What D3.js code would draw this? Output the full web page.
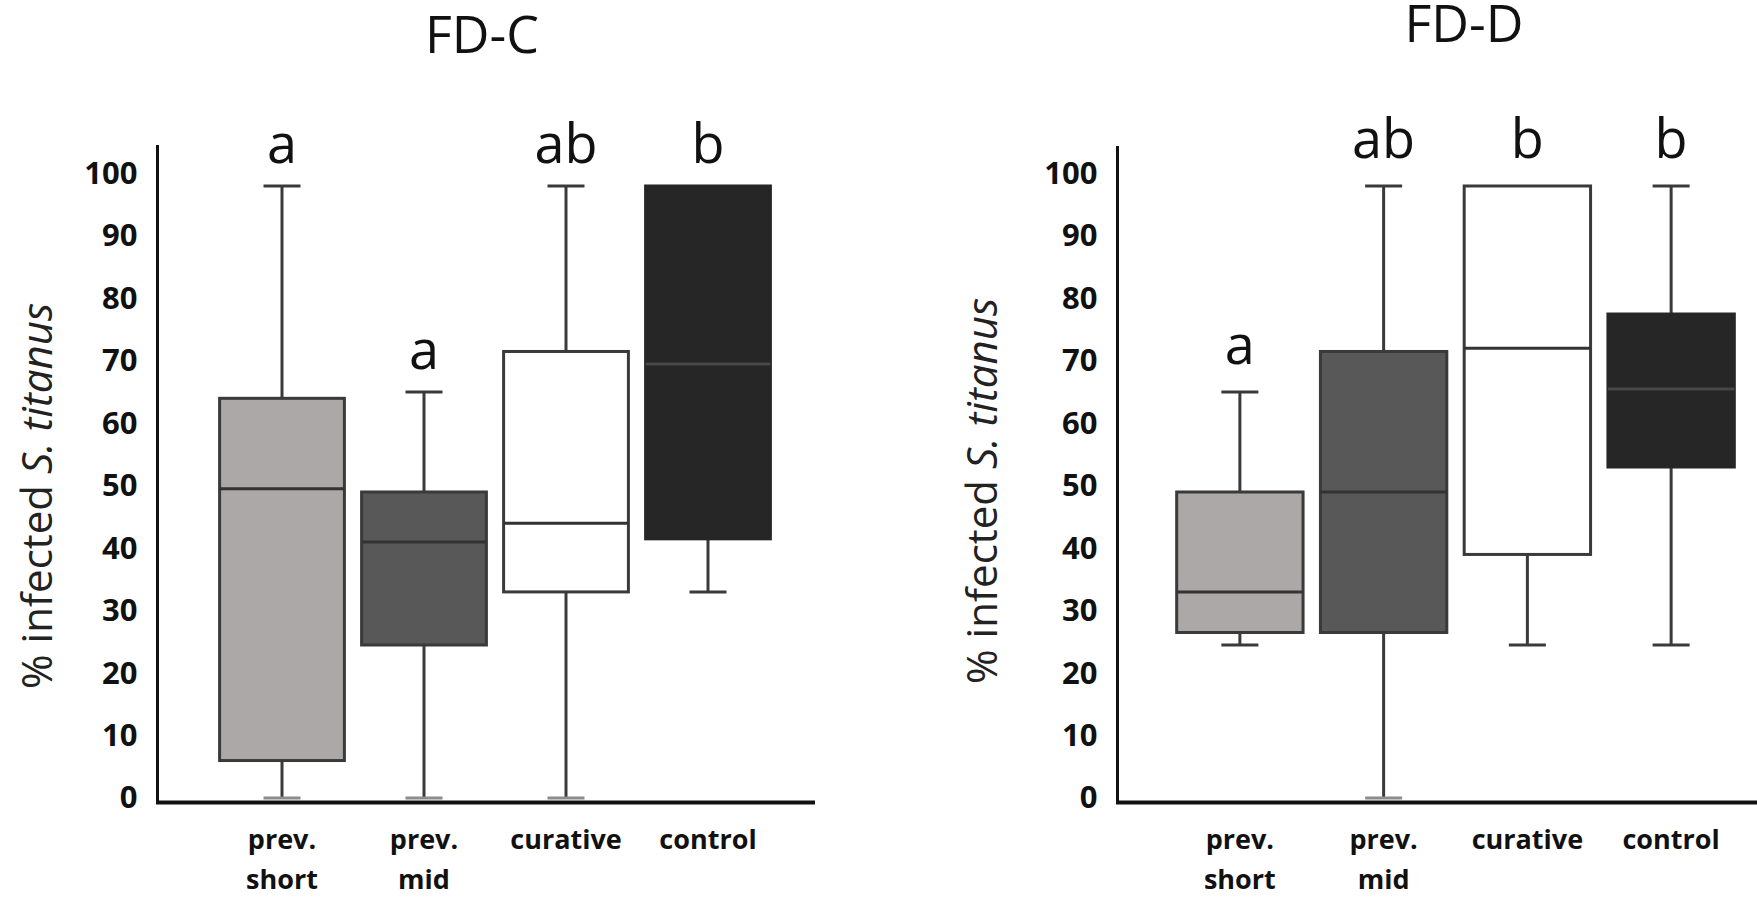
<!DOCTYPE html>
<html>
<head>
<meta charset="utf-8">
<script src="https://cdn.jsdelivr.net/npm/d3@7"></script>
<style>
  html, body { margin: 0; padding: 0; background: #ffffff; }
  svg { display: block; }
  text { font-family: "Open Sans", "DejaVu Sans", sans-serif; fill: #111; }
</style>
</head>
<body>
<svg id="chart" width="1757" height="899"></svg>
<script>
// ---- data ----
const categories = ["prev. short", "prev. mid", "curative", "control"];
const categoryLines = [["prev.", "short"], ["prev.", "mid"], ["curative"], ["control"]];
const yTicks = [0, 10, 20, 30, 40, 50, 60, 70, 80, 90, 100];
const fillColors = ["#aba8a7", "#585858", "#ffffff", "#262626"];

// FD-C
const fdcMin    = [0, 0, 0, 33];
const fdcQ1     = [6, 24.5, 33, 41.5];
const fdcMedian = [49.5, 41, 44, 69.5];
const fdcQ3     = [64, 49, 71.5, 98];
const fdcMax    = [98, 65, 98, 98];
const fdcLetters = ["a", "a", "ab", "b"];

// FD-D
const fddMin    = [24.5, 0, 24.5, 24.5];
const fddQ1     = [26.5, 26.5, 39, 53];
const fddMedian = [33, 49, 72, 65.5];
const fddQ3     = [49, 71.5, 98, 77.5];
const fddMax    = [65, 98, 98, 98];
const fddLetters = ["a", "ab", "b", "b"];

const yLabelPlain = "% infected ";
const yLabelItalic = "S. titanus";

// ---- drawing ----
const svg = d3.select("#chart");

function drawPanel(p) {
  const g = svg.append("g");
  const y = d3.scaleLinear().domain([0, 100]).range([798, 173.5]);
  const x = d3.scaleBand().domain(categories).range(p.xRange)
    .paddingInner(0.1).paddingOuter(0.05);
  const bw = x.bandwidth();
  const capW = 37;
  const stroke = "#3a3a3a";

  const rows = categories.map((c, i) => ({
    c, i, min: p.min[i], q1: p.q1[i], med: p.median[i], q3: p.q3[i], max: p.max[i], letter: p.letters[i]
  }));

  // title
  g.append("text").attr("x", p.titleX).attr("y", p.titleY)
    .attr("text-anchor", "middle").style("font-size", "52px").text(p.title);

  // y label
  const yl = g.append("text")
    .attr("transform", `translate(${p.yLabelX},${p.yLabelY}) rotate(-90)`)
    .attr("text-anchor", "middle").style("font-size", "42px").style("fill", "#222");
  yl.append("tspan").text(yLabelPlain);
  yl.append("tspan").style("font-style", "italic").text(yLabelItalic);

  // y axis (labels only + line)
  const yAxis = d3.axisLeft(y).tickValues(yTicks).tickSize(0).tickPadding(20);
  const ya = g.append("g").attr("transform", `translate(${p.axisX},0)`).call(yAxis);
  ya.select(".domain").remove();
  ya.selectAll("text").style("font-size", "31px").style("font-weight", "bold")
    .style("font-family", "'Open Sans', sans-serif").attr("fill", "#1a1a1a");
  g.append("line").attr("x1", p.axisX).attr("x2", p.axisX)
    .attr("y1", p.axisTop).attr("y2", 804)
    .attr("stroke", "#111").attr("stroke-width", 3);
  g.append("line").attr("x1", p.axisX - 1.5).attr("x2", p.xAxisEnd)
    .attr("y1", 802.5).attr("y2", 802.5)
    .attr("stroke", "#111").attr("stroke-width", 4);

  // whiskers
  const wg = g.selectAll(".box").data(rows).join("g").attr("class", "box");
  wg.append("line")
    .attr("x1", d => x(d.c) + bw / 2).attr("x2", d => x(d.c) + bw / 2)
    .attr("y1", d => y(d.min)).attr("y2", d => y(d.q1))
    .attr("stroke", stroke).attr("stroke-width", 3);
  wg.filter(d => d.max > d.q3).append("line")
    .attr("x1", d => x(d.c) + bw / 2).attr("x2", d => x(d.c) + bw / 2)
    .attr("y1", d => y(d.q3)).attr("y2", d => y(d.max))
    .attr("stroke", stroke).attr("stroke-width", 3);
  // caps
  wg.append("line")
    .attr("x1", d => x(d.c) + bw / 2 - capW / 2).attr("x2", d => x(d.c) + bw / 2 + capW / 2)
    .attr("y1", d => y(d.min)).attr("y2", d => y(d.min))
    .attr("stroke", d => d.min === 0 ? "#8c8c8c" : stroke).attr("stroke-width", 3);
  wg.filter(d => d.max > d.q3).append("line")
    .attr("x1", d => x(d.c) + bw / 2 - capW / 2).attr("x2", d => x(d.c) + bw / 2 + capW / 2)
    .attr("y1", d => y(d.max)).attr("y2", d => y(d.max))
    .attr("stroke", stroke).attr("stroke-width", 3);
  // boxes
  wg.append("rect")
    .attr("x", d => x(d.c) + 1.5).attr("width", bw - 3)
    .attr("y", d => y(d.q3)).attr("height", d => y(d.q1) - y(d.q3))
    .attr("fill", d => fillColors[d.i])
    .attr("stroke", d => d.i === 3 ? fillColors[3] : stroke)
    .attr("stroke-width", 3);
  // medians
  wg.append("line")
    .attr("x1", d => x(d.c) + 1.5).attr("x2", d => x(d.c) + bw - 1.5)
    .attr("y1", d => y(d.med)).attr("y2", d => y(d.med))
    .attr("stroke", d => d.i === 3 ? "#474747" : "#333").attr("stroke-width", 3);
  // letters
  wg.append("text")
    .attr("x", d => x(d.c) + bw / 2).attr("y", d => y(d.max) - p.letterGap)
    .attr("text-anchor", "middle").style("font-size", "54px").text(d => d.letter);

  // x labels
  const xl = g.selectAll(".xl").data(rows).join("text").attr("class", "xl")
    .attr("text-anchor", "middle")
    .style("font-size", "27px").style("font-weight", "bold").attr("fill", "#1a1a1a");
  xl.each(function(d) {
    const t = d3.select(this);
    categoryLines[d.i].forEach((ln, k) => {
      t.append("tspan").attr("x", x(d.c) + bw / 2).attr("y", 849 + k * 40).text(ln);
    });
  });
}

drawPanel({
  title: "FD-C", titleX: 482, titleY: 53,
  min: fdcMin, q1: fdcQ1, median: fdcMedian, q3: fdcQ3, max: fdcMax, letters: fdcLetters,
  xRange: [211, 779], axisX: 157.5, axisTop: 145, xAxisEnd: 815,
  yLabelX: 52, yLabelY: 496, letterGap: 23
});
drawPanel({
  title: "FD-D", titleX: 1464, titleY: 42,
  min: fddMin, q1: fddQ1, median: fddMedian, q3: fddQ3, max: fddMax, letters: fddLetters,
  xRange: [1168, 1743], axisX: 1117.5, axisTop: 146, xAxisEnd: 1760,
  yLabelX: 997, yLabelY: 491, letterGap: 28
});
</script>
</body>
</html>
